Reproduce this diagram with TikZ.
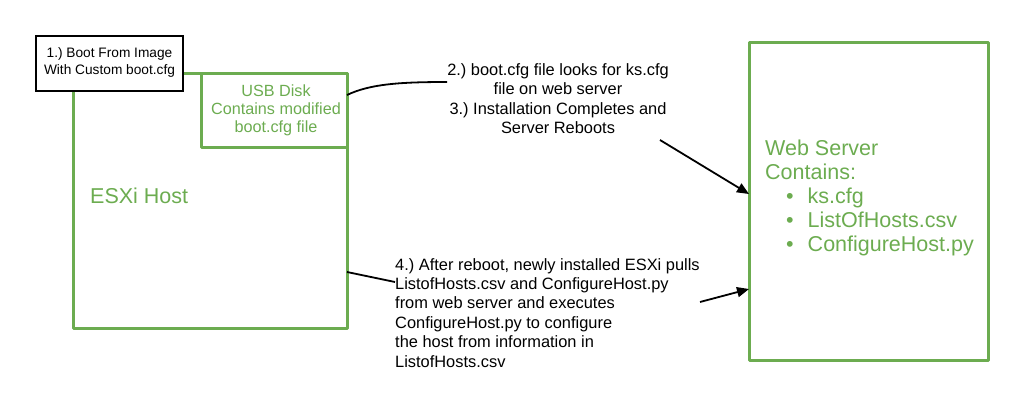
\documentclass[tikz,border=0pt]{standalone}
\usepackage{fontspec}
\setmainfont{Liberation Sans}
\usetikzlibrary{arrows.meta}
\definecolor{grn}{RGB}{108,172,80}
\frenchspacing
\begin{document}
\begin{tikzpicture}[x=1pt,y=-1pt,
  gbox/.style={draw=grn,line width=3pt,line join=round},
  kbox/.style={draw=black,line width=1.8pt,fill=white},
  conn/.style={draw=black,line width=1.8pt},
  arr/.style={conn,-{Triangle[length=12pt,width=10pt]}},
  gtext/.style={text=grn,inner sep=0pt},
  ktext/.style={text=black,inner sep=0pt}]
\useasboundingbox (0,0) rectangle (1024,412);
% boxes
\draw[gbox] (73,73) rectangle (347,328);
\coordinate (esxiR1) at (347,95);
\coordinate (esxiR2) at (347,272);
\draw[gbox] (201,73) rectangle (347,147);
\draw[gbox] (749,43) rectangle (988,360);
\draw[kbox] (36,36) rectangle (183,91);
% texts
\node[ktext,align=center,anchor=north,font=\fontsize{13.7}{17}\selectfont] (boot) at (109.5,47.5) {1.) Boot From Image\\With Custom boot.cfg};
\node[gtext,align=center,anchor=north,font=\fontsize{16.2}{18}\selectfont] (usb) at (276,85) {USB Disk\\Contains modified\\boot.cfg file};
\node[gtext,anchor=base west,font=\fontsize{21.5}{24}\selectfont] (esxi) at (90,203) {ESXi Host};
\node[ktext,align=center,anchor=north,font=\fontsize{16.4}{19.5}\selectfont] (t23) at (558,63) {2.) boot.cfg file looks for ks.cfg\\file on web server\\3.) Installation Completes and\\Server Reboots};
\node[ktext,align=left,anchor=north west,font=\fontsize{16.4}{19.4}\selectfont] (t4) at (395,258) {4.) After reboot, newly installed ESXi pulls\\ListofHosts.csv and ConfigureHost.py\\from web server and executes\\ConfigureHost.py to configure\\the host from information in\\ListofHosts.csv};
\node[gtext,align=left,anchor=north west,font=\fontsize{21.5}{24}\selectfont] (web) at (765,140) {Web Server\\Contains:\\
\hspace*{21pt}\textbullet\hspace{14pt}ks.cfg\\
\hspace*{21pt}\textbullet\hspace{14pt}ListOfHosts.csv\\
\hspace*{21pt}\textbullet\hspace{14pt}ConfigureHost.py};
% connectors
\coordinate (c1end) at (447,82);
\coordinate (a1start) at (660,140);
\coordinate (a1end) at (749,194);
\coordinate (c2end) at (395,282);
\coordinate (a2start) at (700,302);
\coordinate (a2end) at (749,289);
\draw[conn] (esxiR1) .. controls (370,84) and (400,82) .. (c1end);
\draw[arr] (a1start) -- (a1end);
\draw[conn] (esxiR2) -- (c2end);
\draw[arr] (a2start) -- (a2end);
\end{tikzpicture}
\end{document}
